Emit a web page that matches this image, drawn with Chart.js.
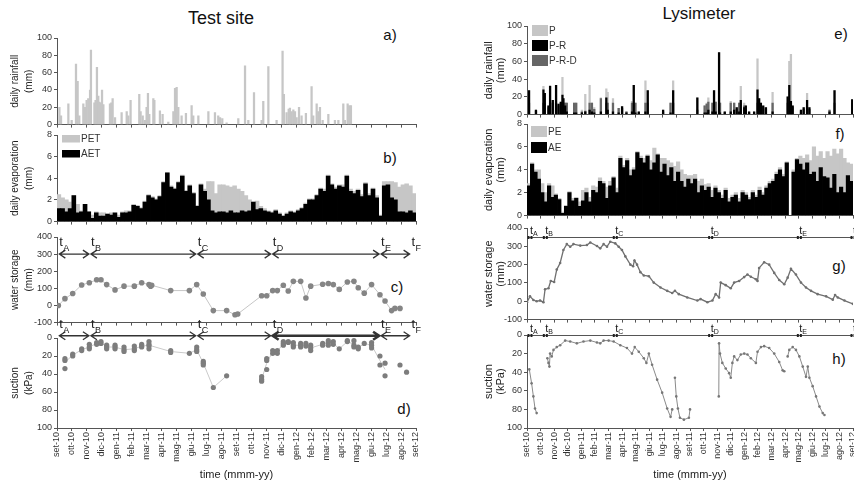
<!DOCTYPE html>
<html>
<head>
<meta charset="utf-8">
<title>Test site / Lysimeter</title>
<script src="https://cdn.jsdelivr.net/npm/chart.js@4.4.1/dist/chart.umd.min.js"></script>
<style>
html, body { margin: 0; padding: 0; overflow: hidden; background: #fff; }
body { position: relative; width: 854px; height: 484px; font-family: "Liberation Sans", Arial, sans-serif; }
canvas { position: absolute; }
.txt { position: absolute; color: #111; white-space: nowrap; transform: translate(-50%, -50%); }
</style>
</head>
<body>
<div class="txt" style="left:221px;top:18px;font-size:18px">Test site</div>
<div class="txt" style="left:699px;top:14px;font-size:17px">Lysimeter</div>
<div class="txt" style="left:390px;top:34px;font-size:15px">a)</div>
<div class="txt" style="left:390px;top:157px;font-size:15px">b)</div>
<div class="txt" style="left:397px;top:286px;font-size:15px">c)</div>
<div class="txt" style="left:404px;top:408px;font-size:15px">d)</div>
<div class="txt" style="left:841px;top:33px;font-size:15px">e)</div>
<div class="txt" style="left:840px;top:133px;font-size:15px">f)</div>
<div class="txt" style="left:839px;top:265px;font-size:15px">g)</div>
<div class="txt" style="left:839px;top:358px;font-size:15px">h)</div>
<script>
Chart.defaults.font.family = '"Liberation Sans", Arial, sans-serif';
Chart.defaults.color = '#333';

// time axis: months since 1 Sep 2010
const monthLabels = ['set-10','ott-10','nov-10','dic-10','gen-11','feb-11','mar-11','apr-11','mag-11','giu-11','lug-11','ago-11',
  'set-11','ott-11','nov-11','dic-11','gen-12','feb-12','mar-12','apr-12','mag-12','giu-12','lug-12','ago-12','set-12'];

const periodLetters = ['A', 'B', 'C', 'D', 'E', 'F'];
const periodTimesSite = [0.09, 2.2, 9.34, 14.35, 21.6, 23.64];
const periodTimesLys = [0.22, 1.35, 6.5, 13.52, 20.05, 24.0];

// ---- test site ----
const rainTimeA = [0.16,0.27,0.76,0.98,1.27,1.38,1.49,1.76,1.87,1.98, 2.09,2.21,2.27,2.50,2.58,2.67,2.76,2.83,2.92,3.01,
  3.10,3.54,3.63,3.72,3.88,4.32,4.66,4.77,4.92,5.50, 5.59,5.73,5.88,5.99,6.08,6.17,6.44,6.51,6.88,7.06,
  7.44,7.78,7.89,8.00,8.11,8.33,8.62,9.00,9.11,9.45, 10.12,10.56,10.78,10.90,11.05,11.34,12.12,12.57,12.79,13.17,
  13.68,13.79,14.13,14.68,15.08,15.17,15.35,15.49,15.57,15.69, 15.80,15.91,16.02,16.18,16.35,16.64,17.02,17.13,17.36,17.47,
  17.58,17.76,18.14,18.58,18.81,19.14,19.25,19.43,19.54,19.65];
const rainA = [20,10,24,5,70,50,10,24,20,28, 30,40,86,25,28,66,33,26,25,40,
  23,24,25,30,8,14,15,10,28,35, 15,10,5,20,36,12,30,28,16,12,
  3,15,42,43,20,10,13,22,10,10, 15,14,10,8,7,2,7,68,5,37,
  5,27,67,5,85,35,14,18,19,15, 17,15,8,20,10,13,44,10,24,15,
  20,5,12,5,5,24,5,24,22,22];

// quarter-month values
const petA = [2.5,2.2,2.0,1.8, 2.4,1.6,1.0,1.6, 0.9,0.6,0.9,0.8, 0.8,0.7,0.8,0.7, 0.6,0.9,1.0,1.0, 1.6,1.5,1.3,1.9,
  2.5,2.3,2.1,2.4, 3.7,4.5,3.3,3.1, 3.7,4.3,2.9,3.4, 2.7,1.5,3.5,3.0, 3.7,3.7,2.6,3.4, 3.4,3.3,3.2,3.3,
  3.0,2.8,2.4,2.0, 1.8,1.9,1.4,1.2, 1.0,0.9,1.1,0.8, 0.5,0.8,1.0,0.9, 1.1,1.3,1.7,2.1, 2.1,2.5,3.1,3.0,
  4.3,3.5,3.2,3.4, 3.4,4.3,3.0,2.8, 3.0,2.5,3.6,2.6, 3.1,2.4,0.6,3.7, 3.7,3.7,3.6,3.2, 3.4,3.5,3.3,2.6];
const aetA = [1.2,1.2,0.9,1.2, 2.4,0.8,0.9,1.6, 0.9,0.3,0.8,0.5, 0.5,0.7,0.6,0.8, 0.4,0.8,0.8,0.9, 1.5,1.4,1.2,1.8,
  2.4,2.2,2.0,2.3, 3.6,4.5,3.2,3.0, 3.6,4.2,2.8,3.3, 2.6,1.4,3.4,2.8, 2.0,1.0,0.8,0.9, 0.9,0.8,1.0,0.8,
  0.8,1.0,0.9,1.0, 1.8,1.1,1.2,1.0, 0.9,0.8,1.0,0.7, 0.5,0.7,0.9,0.8, 1.0,1.2,1.6,2.0, 2.0,2.4,3.0,2.8,
  4.2,3.4,3.0,3.3, 3.2,4.2,2.8,2.6, 2.9,2.3,3.5,2.4, 3.0,2.2,0.5,3.3, 3.4,2.2,2.0,0.9, 0.9,0.8,1.0,0.8];

const storageTimeA = [0.09,0.53,1.05,1.65,2.16,2.65,2.94,3.32,3.88,4.48, 5.17,5.66,6.15,6.26,6.33,7.60,8.85,9.34,9.78,10.45,
  11.34,11.90,12.08,13.68,14.02,14.42,14.73,15.13,15.46,15.80, 16.29,16.64,16.96,17.76,18.14,18.47,18.87,19.41,19.85,20.14,
  20.54,21.03,21.59,21.93,22.37,22.59,22.93];
const storageA = [0,40,70,120,133,150,150,122,91,113, 113,133,122,113,118,87,87,122,67,-30,
  -30,-54,-50,57,57,87,87,118,85,141, 141,44,113,124,128,122,94,137,141,104,
  72,122,63,26,-30,-17,-17];

const suctionTimeA = [0.53,0.53,0.53, 1.05,1.05, 1.65,1.65, 2.16,2.16,2.16, 2.65,2.65, 2.94,2.94, 3.32,3.32,3.32,
  3.88,3.88,3.88, 4.48,4.48,4.48, 5.17,5.17,5.17, 5.66,5.66,5.66, 6.15,6.15,6.15,6.15, 7.60,7.60, 8.85,
  9.34,9.34,9.34, 9.78,9.78,9.78, 10.45, 11.34, 13.68,13.68,13.68, 14.02,14.02,14.02, 14.42,14.42, 14.73,14.73,
  15.13,15.13,15.13, 15.46,15.46, 15.80,15.80,15.80, 16.29,16.29,16.29, 16.64,16.64, 16.96,16.96,16.96,
  17.76,17.76, 18.14,18.14,18.14, 18.47,18.47, 18.87, 19.41,19.41, 19.85,19.85,19.85, 20.14,20.14, 20.54,
  21.03,21.03,21.03, 21.59,21.59, 21.93,21.93, 22.93, 23.37];
const suctionA = [23,25,34, 18,20, 12,14, 7,10,12, 5,7, 4,6, 8,10,12,
  8,10,12, 10,13,15, 9,12,14, 7,9,10, 4,7,9,12, 14,16, 17,
  10,13,15, 26,28,30, 55, 42, 43,46,48, 23,25,35, 14,17, 14,17,
  4,6,8, 4,5, 5,8,10, 6,8,10, 6,9, 8,11,14,
  6,8, 3,5,8, 4,7, 12, 3,4, 3,8,10, 10,12, 6,
  5,8,11, 20,30, 28,42, 30, 38];
const suctionLineTimeA = [0.53,1.05,1.65,2.16,2.65,2.94,3.32,3.88,4.48,5.17,5.66,6.15,7.60,8.85,9.34,9.78,10.45,11.34,
  12.5, 13.68,14.02,14.42,14.73,15.13,15.46,15.80,16.29,16.64,16.96,17.76,18.14,18.47,18.87,19.41,19.85,20.14,20.54,21.03,21.59,21.93];
const suctionLineA = [27,19,13,10,6,5,10,10,13,12,9,8,15,17,13,28,55,42,
  null, 46,28,15,15,6,5,8,8,8,11,7,5,6,12,4,7,11,6,8,25,35];

// ---- lysimeter ----
const rainTimeL = [0.15,0.66,1.21,1.31,1.58,1.70,1.90,2.14,2.32,2.49, 2.61,2.68,2.81,2.93,3.47,3.62,4.04,4.29,4.61,4.78,
  4.95,5.44,5.84,5.94,6.33,6.75,7.00,7.32,7.73,7.86, 7.98,8.23,8.72,8.89,10.02,10.57,10.76,12.54,13.08,13.23,
  13.35,13.65,13.77,13.89,14.14,14.21,14.56,15.00,15.25,15.44, 15.62,15.74,15.99,16.11,16.35,16.72,16.97,17.09,17.22,17.39,
  17.59,18.08,19.19,19.31,19.43,19.56,20.17,20.37,20.62,20.79, 22.27,22.64,23.94];
const rainP = [27,5,32,24,10,33,16,33,12,14, 42,18,13,13,13,13,5,23,33,13,
  8,19,29,25,18,7,9,3,15,33, 13,3,38,27,5,13,38,19,10,13,
  19,13,27,14,70,13,3,15,13,8, 13,32,13,10,3,3,63,18,13,10,
  8,25,20,60,68,10,5,8,24,8, 5,27,17];
const rainPR = [27,5,28,24,10,32,16,33,12,14, 22,18,10,3,2,2,2,3,5,3,
  2,3,19,5,3,2,9,2,3,33, 2,3,3,27,5,2,27,19,2,2,
  5,3,27,3,70,2,3,3,5,8, 3,16,8,10,3,3,28,18,13,10,
  8,3,20,33,15,10,5,8,16,8, 3,27,17];
const rainPRD = [13,4,13,13,8,13,13,13,10,13, 13,13,13,13,13,13,3,4,13,13,
  6,18,13,13,13,7,7,3,13,13, 13,2,13,13,3,13,13,5,10,12,
  14,13,13,14,13,13,2,13,13,6, 13,13,10,6,2,2,13,13,10,8,
  6,13,13,13,13,8,3,6,8,6, 5,13,13];

const peL = [2.8,4.6,4.0,4.0, 2.8,2.0,2.8,2.6, 1.9,1.5,0.3,0.9, 2.1,1.5,1.6,1.2, 2.2,2.4,1.6,2.6, 2.5,3.3,3.0,2.5,
  3.0,3.4,2.4,5.2, 4.4,5.0,4.0,4.2, 5.6,5.2,5.0,5.3, 4.8,5.9,5.4,5.0, 5.0,4.8,4.6,4.3, 4.7,4.0,3.6,3.5,
  3.5,3.6,3.0,3.2, 2.7,2.8,2.2,2.6, 2.2,1.8,2.4,1.5, 1.8,2.0,1.5,2.2, 2.0,1.6,2.2,1.8, 2.5,2.0,2.6,3.0,
  3.2,3.8,4.2,3.6, 4.7,0.0,4.0,5.0, 5.2,5.0,5.3,4.8, 6.0,5.2,5.6,5.0, 5.6,5.2,5.8,5.4, 5.8,5.0,4.6,4.5];
const aeL = [2.6,4.5,3.8,3.2, 2.0,1.2,2.6,1.6, 1.8,1.4,0.2,0.8, 2.0,1.3,1.5,0.8, 1.3,2.0,1.2,2.2, 2.0,3.0,2.8,1.5,
  2.6,3.3,2.0,5.0, 4.2,4.8,3.5,4.0, 5.5,5.0,4.6,5.2, 4.0,4.6,5.3,3.8, 4.5,3.5,4.2,3.0, 3.8,3.0,2.5,3.2,
  2.8,3.2,2.0,2.6, 2.2,2.5,1.6,2.4, 2.0,1.5,2.2,1.2, 1.6,1.8,1.2,2.0, 1.8,1.4,2.0,1.6, 2.2,1.8,2.4,2.8,
  3.0,3.6,4.0,3.4, 4.6,0.0,3.8,4.9, 4.5,4.0,4.6,3.6, 3.8,3.0,4.2,3.4, 3.3,2.4,3.6,2.0, 2.5,2.0,3.5,3.0];

const storageTimeL = [0,0.22,0.47,0.71,0.96,1.21,1.33,1.58,1.75,2.0, 2.19,2.44,2.68,2.93,3.18,3.42,3.92,4.41,4.66,5.15,
  5.39,5.64,5.89,6.13,6.50,6.75,6.99,7.24,7.61,7.81, 7.91,8.10,8.35,8.60,8.97,9.33,9.83,10.32,10.69,10.89,
  11.18,11.80,12.54,12.78,13.28,13.65,13.89,14.14,14.26,14.63, 15.00,15.25,15.62,15.99,16.23,16.48,16.85,16.97,17.09,17.46,
  17.83,18.20,18.57,18.94,19.19,19.43,19.80,20.17,20.54,20.91, 21.40,22.02,22.51,22.68,22.88,23.37,23.99];
const storageL = [-5,27,7,0,4,-5,66,71,111,105, 173,209,280,312,298,312,304,307,321,302,
  289,312,298,325,316,298,280,245,200,191, 223,200,159,141,137,102,75,57,45,57,
  39,21,4,12,-5,4,39,21,102,88, 71,102,111,132,146,134,120,111,182,213,
  200,155,116,93,129,177,146,102,75,57, 39,27,9,34,21,4,-14];

const suctionTimeL = [0.17,0.34,0.47,0.59,0.71, 1.10,
  1.50,1.58,1.65,1.70,1.82,1.95,2.19,2.44,2.81,3.18, 3.67,4.16,4.66,5.15,5.39,5.64,6.01,6.38,6.87,7.36,
  7.73,7.93,8.23,8.60,8.79,8.97,9.21,9.58,9.95,10.32, 10.57,10.69, 10.80,
  10.89,10.99,11.11,11.26,11.55,11.92,12.00, 13.00,
  14.12,14.14,14.21,14.38,14.63,14.88,15.00,15.12,15.25,15.49, 15.74,15.99,16.23,16.48,16.85,16.97,17.22,17.46,17.83,18.20,
  18.57,18.82,18.94, 19.05,
  19.19,19.31,19.56,19.80,20.05,20.30,20.54,20.67,20.79,21.03,21.28,21.53,21.77,21.90];
const suctionL = [37,52,66,79,84, null,
  25,30,34,20,23,16,13,11,6,7, 9,7,6,8,9,6,6,7,11,14,
  20,13,18,25,30,20,32,48,62,79, 88,80, null,
  46,66,79,89,91,89,80, null,
  66,9,20,30,36,41,46,30,23,27, 21,20,21,25,30,18,13,12,14,20,
  29,38,39, null,
  23,16,13,16,23,34,45,34,46,55,66,77,84,86];

const pts = (xs, ys) => xs.map((x, i) => ({x: x, y: ys[i]}));
const quarterMonthly = vals => vals.map((v, i) => ({x: (i + 0.5) / 4, y: v}));

// legend boxes drawn inside the plot, top left
const boxLegend = {
  id: 'boxLegend',
  afterDraw(chart, args, opts) {
    const {ctx, chartArea} = chart;
    ctx.save();
    ctx.font = opts.font;
    ctx.textBaseline = 'middle';
    ctx.textAlign = 'left';
    chart.data.datasets.forEach((ds, i) => {
      const bx = chartArea.left + opts.dx;
      const by = chartArea.top + opts.dy + i * opts.step;
      ctx.fillStyle = ds.backgroundColor;
      ctx.fillRect(bx, by, opts.w, opts.h);
      ctx.fillStyle = '#333';
      ctx.fillText(ds.label, bx + opts.w + 1, by + opts.h / 2 + 0.5);
    });
    ctx.restore();
  }
};

// double arrows between period markers (test site)
const periodArrows = {
  id: 'periodArrows',
  afterDraw(chart, args, opts) {
    const {ctx} = chart;
    const x = chart.scales.x, y = chart.scales.y;
    const yy = y.getPixelForValue(opts.level);
    ctx.save();
    ctx.strokeStyle = '#333';
    ctx.fillStyle = '#222';
    for (let i = 0; i < opts.times.length - 1; i++) {
      const x1 = x.getPixelForValue(opts.times[i]) + 1;
      const x2 = x.getPixelForValue(opts.times[i + 1]) - 1;
      ctx.lineWidth = opts.widths[i];
      ctx.beginPath();
      ctx.moveTo(x1, yy); ctx.lineTo(x2, yy);
      ctx.moveTo(x1 + 6, yy - 4); ctx.lineTo(x1, yy); ctx.lineTo(x1 + 6, yy + 4);
      ctx.moveTo(x2 - 6, yy - 4); ctx.lineTo(x2, yy); ctx.lineTo(x2 - 6, yy + 4);
      ctx.stroke();
    }
    ctx.textAlign = 'left';
    ctx.textBaseline = 'alphabetic';
    opts.times.forEach((t, i) => {
      const px = x.getPixelForValue(t);
      ctx.font = '13px "Liberation Sans", Arial, sans-serif';
      ctx.fillText('t', px + 1, yy - 8);
      ctx.font = '9px "Liberation Sans", Arial, sans-serif';
      ctx.fillText(periodLetters[i], px + 5, yy - 3);
    });
    ctx.restore();
  }
};

// thin line with period markers (lysimeter)
const periodMarks = {
  id: 'periodMarks',
  afterDraw(chart, args, opts) {
    const {ctx, chartArea} = chart;
    const x = chart.scales.x, y = chart.scales.y;
    const yy = Math.round(y.getPixelForValue(opts.level)) + 0.5;
    ctx.save();
    ctx.strokeStyle = '#555';
    ctx.lineWidth = 1;
    ctx.beginPath();
    ctx.moveTo(chartArea.left, yy); ctx.lineTo(chartArea.right, yy);
    ctx.stroke();
    ctx.fillStyle = '#222';
    ctx.textAlign = 'left';
    ctx.textBaseline = 'alphabetic';
    opts.times.forEach((t, i) => {
      const px = x.getPixelForValue(t);
      ctx.fillRect(px - 2.5, yy - 1.5, 2, 3);
      ctx.fillRect(px + 0.5, yy - 1.5, 2, 3);
      ctx.font = '11px "Liberation Sans", Arial, sans-serif';
      ctx.fillText('t', px, yy - 4);
      ctx.font = '7px "Liberation Sans", Arial, sans-serif';
      ctx.fillText(periodLetters[i], px + 3, yy - 1.5);
    });
    ctx.restore();
  }
};

const COLS = {
  left: {x0: 0, w: 430, l: 57, r: 416, titleSize: 10, titleLH: 1.4, titlePad: 8},
  right: {x0: 430, w: 440, l: 527, r: 853, titleSize: 11, titleLH: 1.1, titlePad: 53}
};

function xAxis(showLabels) {
  return {
    type: 'linear', min: 0, max: 24, offset: false,
    grid: {drawOnChartArea: false, tickLength: 3, color: '#555', offset: false},
    border: {color: '#555'},
    ticks: showLabels
      ? {stepSize: 1, autoSkip: false, minRotation: 90, maxRotation: 90, padding: 1, color: '#333', font: {size: 9},
         callback: v => monthLabels[v]}
      : {stepSize: 1, display: false},
    title: showLabels
      ? {display: true, text: 'time (mmm-yy)', color: '#222', font: {size: 11}, padding: {top: 0, bottom: 2}}
      : {display: false}
  };
}

function yAxis(col, min, max, step, title, reverse) {
  return {
    type: 'linear', min: min, max: max, reverse: !!reverse,
    grid: {drawOnChartArea: false, tickLength: 3, color: '#555'},
    border: {color: '#555'},
    ticks: {stepSize: step, color: '#333', font: {size: 9}, padding: 2},
    title: {display: true, text: title, color: '#222',
      font: {size: col.titleSize, lineHeight: col.titleLH}, padding: {top: col.titlePad, bottom: 0}}
  };
}

function makePanel(col, top, bottom, areaTop, areaBottom, cfg) {
  const cv = document.createElement('canvas');
  cv.width = col.w;
  cv.height = bottom - top;
  cv.style.left = col.x0 + 'px';
  cv.style.top = top + 'px';
  document.body.appendChild(cv);
  const o = cfg.options;
  o.responsive = false;
  o.animation = false;
  o.layout = {padding: {top: areaTop - top, right: col.x0 + col.w - col.r, left: 0, bottom: 0}};
  o.scales.x.afterFit = s => { s.height = bottom - areaBottom; };
  o.scales.y.afterFit = s => { s.width = col.l - col.x0; };
  o.plugins = Object.assign({legend: {display: false}, tooltip: {enabled: false}}, o.plugins || {});
  return new Chart(cv, cfg);
}

// a) test site rainfall
makePanel(COLS.left, 26, 132, 38, 126, {
  type: 'bar',
  data: {datasets: [{data: pts(rainTimeA, rainA), backgroundColor: '#c6c6c6', barThickness: 1.6, grouped: false}]},
  options: {scales: {x: xAxis(false), y: yAxis(COLS.left, 0, 100, 20, ['daily rainfall', '(mm)'])}}
});

// b) test site evaporation
makePanel(COLS.left, 126, 229, 135, 223, {
  type: 'bar',
  data: {datasets: [
    {label: 'PET', data: quarterMonthly(petA), backgroundColor: '#c6c6c6', barThickness: 3.9, grouped: false, order: 2},
    {label: 'AET', data: quarterMonthly(aetA), backgroundColor: '#000000', barThickness: 3.9, grouped: false, order: 1}
  ]},
  options: {
    scales: {x: xAxis(false), y: yAxis(COLS.left, 0, 8, 2, ['daily evaporation', '(mm)'])},
    plugins: {boxLegend: {dx: 5, dy: 0, w: 18, h: 7.5, step: 15, font: '10px "Liberation Sans", Arial, sans-serif'}}
  },
  plugins: [boxLegend]
});

// c) test site water storage
makePanel(COLS.left, 225, 330, 237, 324, {
  type: 'line',
  data: {datasets: [{data: pts(storageTimeA, storageA), borderColor: '#c6c6c6', borderWidth: 1,
    pointRadius: 2.8, pointBackgroundColor: '#858585', pointBorderColor: '#858585', pointBorderWidth: 0}]},
  options: {
    scales: {x: xAxis(false), y: yAxis(COLS.left, -100, 400, 100, ['water storage', '(mm)'])},
    plugins: {periodArrows: {times: periodTimesSite, level: 300, widths: [1.3, 1.3, 1.3, 1.3, 1.3]}}
  },
  plugins: [periodArrows]
});

// d) test site suction
makePanel(COLS.left, 320, 484, 338, 428, {
  type: 'line',
  data: {datasets: [
    {data: pts(suctionTimeA, suctionA), showLine: false, pointRadius: 2.6,
     pointBackgroundColor: '#7d7d7d', pointBorderColor: '#7d7d7d', pointBorderWidth: 0, order: 1},
    {data: pts(suctionLineTimeA, suctionLineA), borderColor: '#cacaca', borderWidth: 1, pointRadius: 0, spanGaps: false, order: 2}
  ]},
  options: {
    scales: {x: xAxis(true), y: yAxis(COLS.left, 0, 100, 20, ['suction', '(kPa)'], true)},
    plugins: {periodArrows: {times: periodTimesSite, level: -2.5, widths: [1.3, 1.3, 1.3, 2.6, 1.3]}}
  },
  plugins: [periodArrows]
});

// e) lysimeter rainfall
makePanel(COLS.right, 14, 122, 26, 116, {
  type: 'bar',
  data: {datasets: [
    {label: 'P', data: pts(rainTimeL, rainP), backgroundColor: '#c6c6c6', barThickness: 1.6, grouped: false, order: 3},
    {label: 'P-R', data: pts(rainTimeL, rainPR), backgroundColor: '#000000', barThickness: 1.6, grouped: false, order: 1},
    {label: 'P-R-D', data: pts(rainTimeL, rainPRD), backgroundColor: '#666666', barThickness: 1.6, grouped: false, order: 2}
  ]},
  options: {
    scales: {x: xAxis(false), y: yAxis(COLS.right, 0, 100, 20, ['daily rainfall', '(mm)'])},
    plugins: {boxLegend: {dx: 5, dy: -1, w: 16, h: 11, step: 15, font: '10px "Liberation Sans", Arial, sans-serif'}}
  },
  plugins: [boxLegend]
});

// f) lysimeter evaporation
makePanel(COLS.right, 116, 223, 124, 217, {
  type: 'bar',
  data: {datasets: [
    {label: 'PE', data: quarterMonthly(peL), backgroundColor: '#c6c6c6', barThickness: 3.5, grouped: false, order: 2},
    {label: 'AE', data: quarterMonthly(aeL), backgroundColor: '#000000', barThickness: 3.5, grouped: false, order: 1}
  ]},
  options: {
    scales: {x: xAxis(false), y: yAxis(COLS.right, 0, 8, 2, ['daily evapcration', '(mm)'])},
    plugins: {boxLegend: {dx: 4, dy: 2, w: 16, h: 11, step: 16, font: '10px "Liberation Sans", Arial, sans-serif'}}
  },
  plugins: [boxLegend]
});

// g) lysimeter water storage
makePanel(COLS.right, 218, 327, 228, 321, {
  type: 'line',
  data: {datasets: [{data: pts(storageTimeL, storageL), borderColor: '#707070', borderWidth: 1.3,
    pointRadius: 1.3, pointBackgroundColor: '#707070', pointBorderColor: '#707070', pointBorderWidth: 0}]},
  options: {
    scales: {x: xAxis(false), y: yAxis(COLS.right, -100, 400, 100, ['water storage', '(mm)'])},
    plugins: {periodMarks: {times: periodTimesLys, level: 350}}
  },
  plugins: [periodMarks]
});

// h) lysimeter suction
makePanel(COLS.right, 320, 484, 335, 428, {
  type: 'line',
  data: {datasets: [{data: pts(suctionTimeL, suctionL), borderColor: '#8a8a8a', borderWidth: 1, spanGaps: false,
    pointRadius: 1.3, pointBackgroundColor: '#777777', pointBorderColor: '#777777', pointBorderWidth: 0}]},
  options: {
    scales: {x: xAxis(true), y: yAxis(COLS.right, 0, 100, 20, ['suction', '(kPa)'], true)},
    plugins: {periodMarks: {times: periodTimesLys, level: 0}}
  },
  plugins: [periodMarks]
});
</script>
</body>
</html>
